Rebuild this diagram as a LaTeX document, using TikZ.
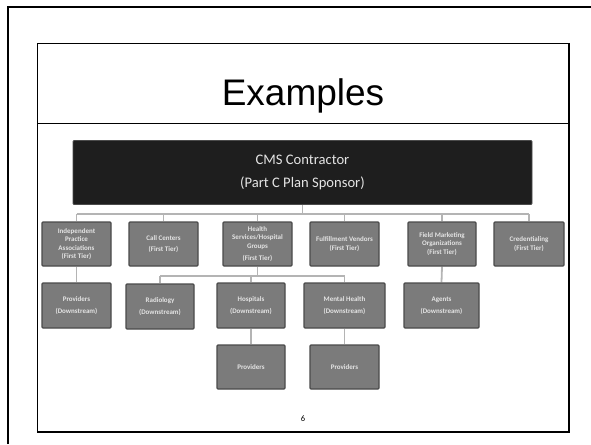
\documentclass[tikz,border=0pt]{standalone}
\usepackage{fontspec}
\setmainfont{Carlito}
\newfontfamily\titlefont{Liberation Sans}
\usetikzlibrary{backgrounds}
\definecolor{boxfill}{HTML}{7B7B7B}
\definecolor{boxline}{HTML}{4A4A4A}
\definecolor{boxtext}{HTML}{E4E4E4}
\definecolor{connline}{HTML}{B4B4B4}
\definecolor{cmsfill}{HTML}{1E1E1E}
\tikzset{
  x=1pt, y=-1pt,
  orgbox/.style={draw=boxline, line width=1.3pt, fill=boxfill, rounded corners=1pt,
    text=boxtext, font=\fontsize{7}{8.3}\selectfont\bfseries, align=center,
    inner sep=0pt, minimum height=44pt, minimum width=69pt},
  cmsbox/.style={draw=cmsfill!80!white, line width=0.8pt, fill=cmsfill, rounded corners=1pt,
    text=boxtext, font=\fontsize{14.6}{23}\selectfont, align=center,
    inner sep=0pt, minimum height=64pt, minimum width=459pt},
  conn/.style={draw=connline, line width=1.8pt}
}
\begin{document}
\begin{tikzpicture}
\useasboundingbox (0,0) rectangle (591,444);
% frames
\draw[line width=2pt] (8,444) -- (8,7) -- (591,7);
\draw[line width=0.9pt] (37,43) rectangle (569,432);
\draw[line width=2pt] (569,43) -- (569,432) -- (37,432);
\draw[line width=0.9pt] (37,123) -- (569,123);
\node[anchor=base, font=\titlefont\fontsize{37}{40}\selectfont] (title) at (303,105) {Examples};
\node[font=\fontsize{8.5}{10}\selectfont] (pagenum) at (303,419) {6};
% top node
\node[cmsbox] (cms) at (302.5,172.5) {CMS Contractor\\(Part C Plan Sponsor)};
% first tier
\node[orgbox] (ipa) at (76.5,244) {Independent\\Practice\\Associations\\(First Tier)};
\node[orgbox] (call) at (163.5,244) {Call Centers\\[2.7pt](First Tier)};
\node[orgbox] (hs) at (257.5,244) {Health\\Services/Hospital\\Groups\\[4pt](First Tier)};
\node[orgbox] (ful) at (344.5,244) {Fulfillment Vendors\\(First Tier)};
\node[orgbox, minimum width=68pt] (fmo) at (442,244) {Field Marketing\\Organizations\\(First Tier)};
\node[orgbox, minimum width=70pt] (cred) at (529,244) {Credentialing\\(First Tier)};
% second tier
\node[orgbox, minimum height=45pt] (prov1) at (76.5,305.5) {Providers\\[3.5pt](Downstream)};
\node[orgbox, minimum height=45pt, minimum width=68pt] (rad) at (160,306.5) {Radiology\\[3.5pt](Downstream)};
\node[orgbox, minimum height=45pt, minimum width=68pt] (hosp) at (251,305.5) {Hospitals\\[3.5pt](Downstream)};
\node[orgbox, minimum height=45pt, minimum width=81pt] (mh) at (344.5,305.5) {Mental Health\\[3.5pt](Downstream)};
\node[orgbox, minimum height=45pt, minimum width=75pt] (agents) at (441.5,305.5) {Agents\\[3.5pt](Downstream)};
% third tier
\node[orgbox, minimum width=68pt] (prov2) at (251,367) {Providers};
\node[orgbox] (prov3) at (344.5,367) {Providers};
% connectors
\coordinate (bus1) at (0,214);
\coordinate (bus2) at (0,276);
\begin{scope}[on background layer]
\draw[conn] (cms.south) -- (cms.south |- bus1);
\draw[conn] (ipa.north |- bus1) -- (cred.north |- bus1);
\foreach \n in {ipa,call,hs,ful,fmo,cred}{
  \draw[conn] (\n.north |- bus1) -- (\n.north);
}
\draw[conn] (hs.south) -- (hs.south |- bus2);
\draw[conn] (rad.north |- bus2) -- (mh.north |- bus2);
\foreach \n in {rad,hosp,mh}{
  \draw[conn] (\n.north |- bus2) -- (\n.north);
}
\draw[conn] (ipa.south) -- (prov1.north);
\draw[conn] (fmo.south) -- (agents.north);
\draw[conn] (hosp.south) -- (prov2.north);
\draw[conn] (mh.south) -- (prov3.north);
\end{scope}
\end{tikzpicture}
\end{document}
